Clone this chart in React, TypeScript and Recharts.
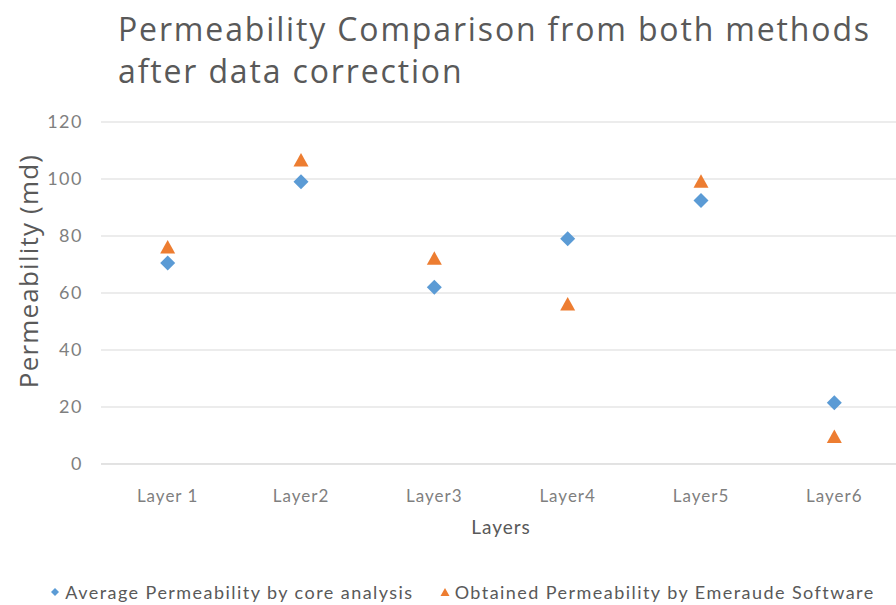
import React from 'react';
import {
  ComposedChart,
  Scatter,
  XAxis,
  YAxis,
  CartesianGrid,
  Legend,
  Label,
} from 'recharts';

const layers = ['Layer 1', 'Layer2', 'Layer3', 'Layer4', 'Layer5', 'Layer6'];
const coreValues = [70.5, 99, 62, 79, 92.5, 21.5];
const emeraudeValues = [76, 106.5, 72, 56, 99, 9.5];
const yTicks = [0, 20, 40, 60, 80, 100, 120];

const BLUE = '#5B9BD5';
const ORANGE = '#ED7D31';
const TEXT = '#595959';
const TICK = '#7f7f7f';

const data = layers.map((layer, i) => ({
  layer,
  core: coreValues[i],
  emeraude: emeraudeValues[i],
}));

const Diamond = (props: any) => {
  const { cx, cy } = props;
  if (cx == null || cy == null) return null;
  const r = 7.5;
  return <path d={`M${cx},${cy - r}L${cx + r},${cy}L${cx},${cy + r}L${cx - r},${cy}Z`} fill={BLUE} />;
};

const Triangle = (props: any) => {
  const { cx, cy } = props;
  if (cx == null || cy == null) return null;
  return <path d={`M${cx},${cy - 7.5}L${cx + 7.5},${cy + 6}L${cx - 7.5},${cy + 6}Z`} fill={ORANGE} />;
};

const renderLegend = (props: any) => {
  const { payload = [] } = props;
  return (
    <div style={{ display: 'flex', justifyContent: 'center', gap: 26, paddingLeft: 24, fontFamily: 'Lato, sans-serif', fontSize: 18, letterSpacing: 1.45, color: TEXT }}>
      {payload.map((entry: any) => (
        <span key={entry.value} style={{ display: 'flex', alignItems: 'center', gap: 5 }}>
          <svg width={10} height={10}>
            {entry.dataKey === 'core' ? (
              <path d="M5,1L9,5L5,9L1,5Z" fill={BLUE} />
            ) : (
              <path d="M5,1L9.5,9L0.5,9Z" fill={ORANGE} />
            )}
          </svg>
          {entry.value}
        </span>
      ))}
    </div>
  );
};

const YLabel = (props: any) => {
  const { viewBox } = props;
  const x = viewBox.x + 28;
  const y = viewBox.y + viewBox.height / 2 - 22;
  return (
    <text
      x={x}
      y={y}
      transform={`rotate(-90, ${x}, ${y})`}
      textAnchor="middle"
      dominantBaseline="central"
      fill={TEXT}
      fontSize={26}
      letterSpacing={1.2}
      fontFamily="Open Sans, sans-serif"
    >
      Permeability (md)
    </text>
  );
};

export default function App() {
  return (
    <div style={{ position: 'absolute', left: 0, top: 0, width: 896, height: 605, overflow: 'hidden', background: '#fff' }}>
      <div style={{ position: 'absolute', left: 118, top: 8, fontFamily: 'Open Sans, sans-serif', fontSize: 32, color: TEXT, lineHeight: '42px', letterSpacing: 1.85, whiteSpace: 'nowrap' }}>
        Permeability Comparison from both methods
        <br />
        after data correction
      </div>
      <ComposedChart width={901} height={605} data={data} margin={{ top: 122, right: 0, bottom: 0, left: 0 }}>
        <CartesianGrid vertical={false} stroke="#d9d9d9" />
        <XAxis
          dataKey="layer"
          scale="band"
          height={113}
          tickLine={false}
          axisLine={{ stroke: '#d9d9d9' }}
          tickMargin={20}
          tick={{ fill: TICK, fontSize: 17, letterSpacing: 1, fontFamily: 'Lato, sans-serif' }}
        >
          <Label value="Layers" position="insideTop" offset={57} fill={TEXT} fontSize={19} letterSpacing={1} fontFamily="Lato, sans-serif" />
        </XAxis>
        <YAxis
          width={101}
          domain={[0, 120]}
          ticks={yTicks}
          tickLine={false}
          axisLine={false}
          tickMargin={12}
          tick={{ fill: TICK, fontSize: 18, letterSpacing: 1.5, fontFamily: 'Lato, sans-serif' }}
        >
          <Label content={YLabel} />
        </YAxis>
        <Legend verticalAlign="bottom" height={28} content={renderLegend} wrapperStyle={{ bottom: -4 }} />
        <Scatter
          name="Average Permeability by core analysis"
          dataKey="core"
          fill={BLUE}
          shape={Diamond}
          isAnimationActive={false}
        />
        <Scatter
          name="Obtained Permeability by Emeraude Software"
          dataKey="emeraude"
          fill={ORANGE}
          shape={Triangle}
          isAnimationActive={false}
        />
      </ComposedChart>
    </div>
  );
}
